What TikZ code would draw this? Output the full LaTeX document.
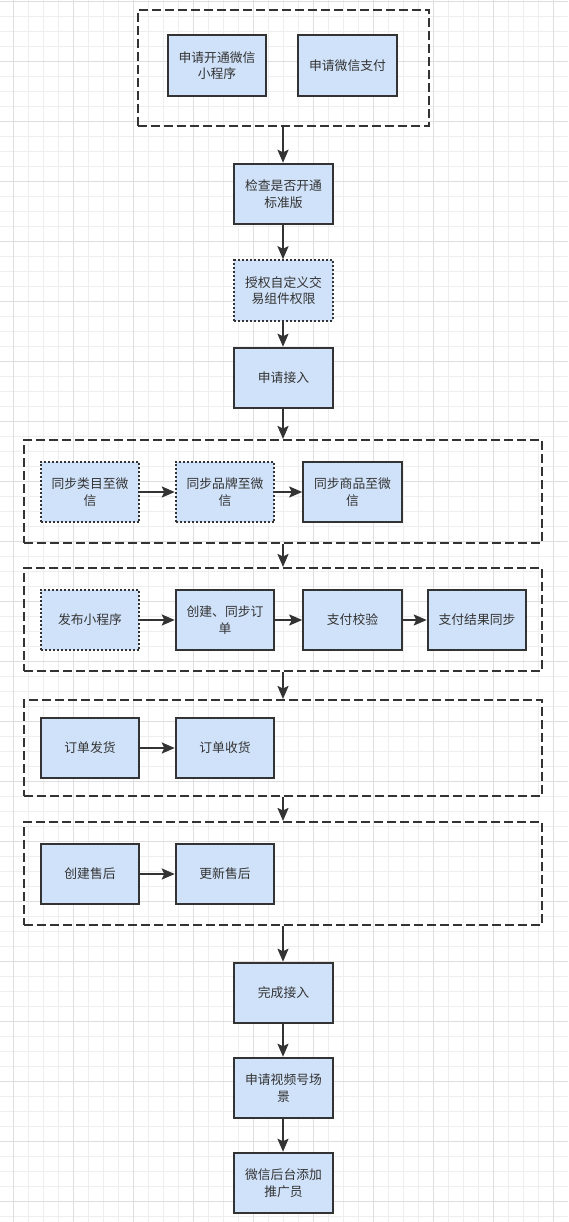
\documentclass[tikz,border=0pt]{standalone}
\usepackage{fontspec}
\newfontfamily\cjk{Noto Sans CJK SC}
\usetikzlibrary{arrows.meta}
\definecolor{boxfill}{RGB}{208,226,249}
\definecolor{strokec}{RGB}{51,51,51}
\definecolor{txt}{RGB}{51,51,51}
\definecolor{gridminor}{RGB}{238,238,238}
\definecolor{gridmajor}{RGB}{222,222,222}
\begin{document}
\begin{tikzpicture}[x=1pt,y=-1pt,
 box/.style={draw=strokec, fill=boxfill, line width=2pt, minimum width=98.5pt, minimum height=60.5pt, inner sep=0pt, align=center, font=\cjk\fontsize{12.8}{16.5}\selectfont, text=txt},
 dotbox/.style={box, dash pattern=on 2pt off 2pt},
 group/.style={draw=strokec, line width=2pt, dash pattern=on 9pt off 4pt, inner sep=0pt},
 arr/.style={draw=strokec, line width=2pt, -{Stealth[length=13pt,width=11pt,inset=2.5pt]}}]
\fill[white] (0,0) rectangle (568,1222);
\useasboundingbox (0,0) rectangle (568,1222);
\foreach \x in {13.5,28.5,...,568} \draw[gridminor, line width=1pt] (\x,0) -- (\x,1222);
\foreach \y in {1.5,16.5,...,1222} \draw[gridminor, line width=1pt] (0,\y) -- (568,\y);
\foreach \x in {13.5,73.5,...,568} \draw[gridmajor, line width=1pt] (\x,0) -- (\x,1222);
\foreach \y in {1.5,61.5,...,1222} \draw[gridmajor, line width=1pt] (0,\y) -- (568,\y);

% groups
\node[group, minimum width=291.5pt, minimum height=116pt] (G1) at (283.25,68) {};
\node[group, minimum width=518pt, minimum height=103pt] (G2) at (283,491.5) {};
\node[group, minimum width=518pt, minimum height=103pt] (G3) at (283,619.5) {};
\node[group, minimum width=518pt, minimum height=96pt] (G4) at (283,748) {};
\node[group, minimum width=518pt, minimum height=103pt] (G5) at (283,873.5) {};

% nodes
\node[box] (A1) at (217,65.5) {申请开通微信\\小程序};
\node[box] (A2) at (347.5,65.5) {申请微信支付};
\node[box] (B) at (283.5,194) {检查是否开通\\标准版};
\node[dotbox] (C) at (283.5,290.5) {授权自定义交\\易组件权限};
\node[box] (D) at (283.5,378) {申请接入};

\node[dotbox] (E1) at (90,492) {同步类目至微\\信};
\node[dotbox] (E2) at (225,492) {同步品牌至微\\信};
\node[box] (E3) at (352.5,492) {同步商品至微\\信};

\node[dotbox] (F1) at (90,620) {发布小程序};
\node[box] (F2) at (225,620) {创建、同步订\\单};
\node[box] (F3) at (352.5,620) {支付校验};
\node[box] (F4) at (477,620) {支付结果同步};

\node[box] (H1) at (90,748) {订单发货};
\node[box] (H2) at (225,748) {订单收货};

\node[box] (I1) at (90,874) {创建售后};
\node[box] (I2) at (225,874) {更新售后};

\node[box] (J) at (283.5,993) {完成接入};
\node[box] (K) at (283.5,1088) {申请视频号场\\景};
\node[box] (L) at (283.5,1183) {微信后台添加\\推广员};

% connectors
\draw[arr] (G1.south -| 283,0) -- (B.north -| 283,0);
\draw[arr] (B.south -| 283,0) -- (C.north -| 283,0);
\draw[arr] (C.south -| 283,0) -- (D.north -| 283,0);
\draw[arr] (D.south -| 283,0) -- (G2.north -| 283,0);
\draw[arr] (G2.south -| 283,0) -- (G3.north -| 283,0);
\draw[arr] (G3.south -| 283,0) -- (G4.north -| 283,0);
\draw[arr] (G4.south -| 283,0) -- (G5.north -| 283,0);
\draw[arr] (G5.south -| 283,0) -- (J.north -| 283,0);
\draw[arr] (J.south -| 283,0) -- (K.north -| 283,0);
\draw[arr] (K.south -| 283,0) -- (L.north -| 283,0);

\draw[arr] (E1) -- (E2);
\draw[arr] (E2) -- (E3);
\draw[arr] (F1) -- (F2);
\draw[arr] (F2) -- (F3);
\draw[arr] (F3) -- (F4);
\draw[arr] (H1) -- (H2);
\draw[arr] (I1) -- (I2);
\end{tikzpicture}
\end{document}
